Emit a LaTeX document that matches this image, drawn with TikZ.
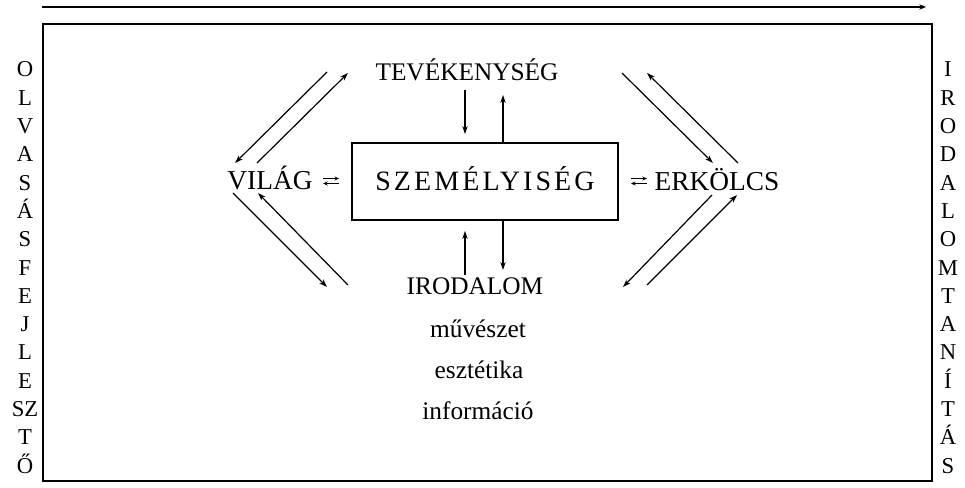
\documentclass[tikz,border=0pt]{standalone}
\usepackage{fontspec}
\setmainfont{Liberation Serif}
\usetikzlibrary{arrows.meta}
\tikzstyle{link} = [-{Stealth[length=6pt,width=4pt]},line width=0.9pt]
\tikzstyle{tiny} = [-{Stealth[length=3.5pt,width=3pt]},line width=0.9pt]
\tikzstyle{word} = [inner sep=0pt, anchor=base, text height=12pt, text depth=0pt, font=\fontsize{19}{22}\selectfont]
\tikzstyle{bigword} = [word, font=\fontsize{20.5}{23}\selectfont]
\tikzstyle{letter} = [inner sep=0pt, anchor=base, font=\fontsize{17}{20}\selectfont]

\begin{document}
\begin{tikzpicture}[x=0.75pt,y=-0.75pt]
\useasboundingbox (0,0) rectangle (965,488);

% Frame
\coordinate (arrL) at (42,7);
\coordinate (arrR) at (926,7);
\draw[-{Stealth[length=5pt,width=4pt]}, line width=1.1pt] (arrL) -- (arrR);
\draw[line width=1.4pt] (43,24) rectangle (932,481);

% Side letters
\foreach \ch [count=\i from 0] in {O,L,V,A,S,Á,S,F,E,J,L,E,SZ,T,Ő}
  \node[letter] (left\i) at (25,{77+\i*28.29}) {\ch};
\foreach \ch [count=\i from 0] in {I,R,O,D,A,L,O,M,T,A,N,Í,T,Á,S}
  \node[letter] (right\i) at (948,{77+\i*28.29}) {\ch};

% Words
\node[word] (tev) at (467,81) {TEVÉKENYSÉG};
\node[bigword] (vilag) at (270,190) {VILÁG};
\node[bigword] (erk) at (717,191) {ERKÖLCS};
\node[word] (irod) at (475,295) {IRODALOM};
\node[word] (muv) at (478,338) {művészet};
\node[word] (eszt) at (479,379) {esztétika};
\node[word] (info) at (478,420) {információ};

% Centre box
\node (szem) [draw, line width=1.4pt, minimum width=199.5pt, minimum height=57.75pt, inner sep=0pt,
  text height=13pt, text depth=0pt, font=\fontsize{21}{24}\selectfont\addfontfeatures{LetterSpace=11}]
  at (485,181.5) {SZEMÉLYISÉG};

% Arrows to and from the box
\draw[link] ([shift={(-2,9)}]tev.base) -- ([shift={(-20,-8)}]szem.north);
\draw[link] ([shift={(18,0)}]szem.north) -- ([shift={(36,14)}]tev.base);
\draw[link] ([shift={(18,0)}]szem.south) -- ([shift={(28,-25)}]irod.base);
\draw[link] ([shift={(-10,-20)}]irod.base) -- ([shift={(-20,10)}]szem.south);

% Diagonals, left
\draw[link] ([shift={(-140,-9)}]tev.base) -- ([shift={(-35,-27)}]vilag.base);
\draw[link] ([shift={(-13,-27)}]vilag.base) -- ([shift={(-119,-8)}]tev.base);
\draw[link] ([shift={(-37,3)}]vilag.base) -- ([shift={(-148,-8)}]irod.base);
\draw[link] ([shift={(-127,-10)}]irod.base) -- ([shift={(-12,3)}]vilag.base);

% Diagonals, right
\draw[link] ([shift={(155,-8)}]tev.base) -- ([shift={(-4,-28)}]erk.base);
\draw[link] ([shift={(21,-28)}]erk.base) -- ([shift={(180,-8)}]tev.base);
\draw[link] ([shift={(-5,4)}]erk.base) -- ([shift={(148,-8)}]irod.base);
\draw[link] ([shift={(172,-10)}]irod.base) -- ([shift={(20,4)}]erk.base);

% Small two-way arrows
\draw[tiny] ([shift={(-28,-3)}]szem.west) -- ([shift={(-12,-3)}]szem.west);
\draw[tiny] ([shift={(-12,2)}]szem.west) -- ([shift={(-28,2)}]szem.west);
\draw[tiny] ([shift={(12,-3)}]szem.east) -- ([shift={(28,-3)}]szem.east);
\draw[tiny] ([shift={(28,2)}]szem.east) -- ([shift={(12,2)}]szem.east);
\end{tikzpicture}
\end{document}
